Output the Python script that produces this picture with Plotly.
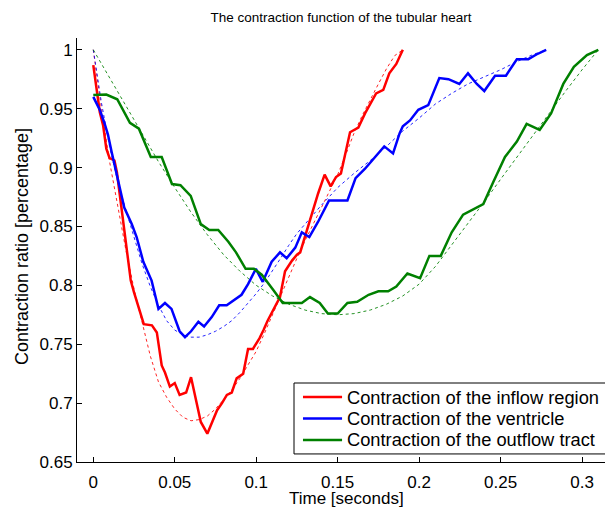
import plotly.graph_objects as go

# Measured contraction ratios (solid) for each region of the tubular heart
t_inflow = [0.000, 0.002, 0.004, 0.006, 0.008, 0.010, 0.013, 0.0145, 0.0175, 0.023,
            0.025, 0.028, 0.031, 0.036, 0.039, 0.042, 0.044, 0.047, 0.050, 0.053,
            0.057, 0.060, 0.066, 0.070, 0.076, 0.079, 0.082, 0.085, 0.088, 0.092,
            0.095, 0.098, 0.102, 0.1045, 0.107, 0.1146, 0.1177, 0.122, 0.125, 0.127,
            0.1326, 0.138, 0.142, 0.1457, 0.149, 0.152, 0.1576, 0.1627, 0.1668, 0.1736,
            0.178, 0.1817, 0.186, 0.190]
v_inflow = [0.987, 0.967, 0.947, 0.936, 0.916, 0.908, 0.906, 0.896, 0.865, 0.804,
            0.794, 0.780, 0.767, 0.766, 0.760, 0.732, 0.726, 0.714, 0.717, 0.707,
            0.709, 0.722, 0.684, 0.674, 0.694, 0.700, 0.707, 0.709, 0.721, 0.725,
            0.746, 0.746, 0.755, 0.762, 0.770, 0.790, 0.812, 0.821, 0.826, 0.828,
            0.854, 0.878, 0.894, 0.884, 0.892, 0.895, 0.930, 0.934, 0.946, 0.963,
            0.966, 0.980, 0.988, 1.000]

t_ventricle = [0.000, 0.004, 0.007, 0.009, 0.0113, 0.0138, 0.0164, 0.019, 0.0236, 0.0266,
               0.0307, 0.0358, 0.040, 0.044, 0.048, 0.053, 0.0563, 0.060, 0.0645, 0.068,
               0.0727, 0.0773, 0.0819, 0.086, 0.091, 0.095, 0.0998, 0.104, 0.1095, 0.1146,
               0.1187, 0.124, 0.128, 0.1326, 0.138, 0.1447, 0.156, 0.161, 0.1668, 0.173,
               0.1786, 0.184, 0.188, 0.190, 0.1944, 0.1995, 0.2056, 0.2124, 0.218, 0.2247,
               0.230, 0.2354, 0.240, 0.2466, 0.2533, 0.260, 0.267, 0.272, 0.278]
v_ventricle = [0.960, 0.949, 0.937, 0.928, 0.913, 0.898, 0.882, 0.866, 0.852, 0.841,
               0.820, 0.804, 0.780, 0.785, 0.780, 0.761, 0.756, 0.761, 0.769, 0.765,
               0.773, 0.783, 0.783, 0.787, 0.792, 0.801, 0.814, 0.803, 0.820, 0.828,
               0.823, 0.832, 0.845, 0.841, 0.854, 0.872, 0.872, 0.891, 0.899, 0.909,
               0.918, 0.912, 0.929, 0.935, 0.940, 0.949, 0.953, 0.976, 0.975, 0.971,
               0.980, 0.971, 0.965, 0.978, 0.978, 0.992, 0.992, 0.996, 1.000]

t_outflow = [0.000, 0.008, 0.0147, 0.0225, 0.028, 0.0353, 0.042, 0.0483, 0.0535, 0.0598,
             0.066, 0.0712, 0.0767, 0.0829, 0.0876, 0.0935, 0.0986, 0.1034, 0.1105, 0.1163,
             0.128, 0.133, 0.139, 0.144, 0.150, 0.156, 0.162, 0.169, 0.175, 0.181,
             0.186, 0.1928, 0.2006, 0.2063, 0.2133, 0.220, 0.227, 0.2394, 0.2456, 0.2527,
             0.260, 0.266, 0.274, 0.281, 0.2885, 0.295, 0.303, 0.310]
v_outflow = [0.9615, 0.962, 0.958, 0.938, 0.933, 0.909, 0.909, 0.886, 0.885, 0.876,
             0.852, 0.847, 0.847, 0.837, 0.828, 0.814, 0.814, 0.809, 0.796, 0.785,
             0.785, 0.790, 0.785, 0.776, 0.776, 0.785, 0.786, 0.792, 0.795, 0.795,
             0.799, 0.810, 0.806, 0.825, 0.825, 0.845, 0.860, 0.869, 0.888, 0.909,
             0.922, 0.937, 0.932, 0.946, 0.971, 0.9855, 0.9955, 1.000]

# Smooth fitted curves (dotted)
tf_inflow = [0.000, 0.005, 0.010, 0.015, 0.020, 0.025, 0.030, 0.035, 0.040, 0.045,
             0.050, 0.055, 0.060, 0.065, 0.070, 0.075, 0.080, 0.085, 0.090, 0.095,
             0.100, 0.105, 0.110, 0.115, 0.120, 0.125, 0.130, 0.135, 0.140, 0.145,
             0.150, 0.155, 0.160, 0.165, 0.170, 0.175, 0.180, 0.185, 0.190]
vf_inflow = [1.000, 0.950, 0.905, 0.866, 0.830, 0.797, 0.768, 0.740, 0.718, 0.705,
             0.695, 0.688, 0.685, 0.686, 0.689, 0.695, 0.703, 0.711, 0.721, 0.732,
             0.744, 0.759, 0.775, 0.791, 0.808, 0.823, 0.838, 0.852, 0.866, 0.879,
             0.894, 0.911, 0.929, 0.944, 0.958, 0.971, 0.984, 0.995, 1.000]

tf_ventricle = [0.000, 0.005, 0.010, 0.015, 0.020, 0.025, 0.030, 0.035, 0.040, 0.045,
                0.050, 0.055, 0.060, 0.065, 0.070, 0.075, 0.080, 0.085, 0.090, 0.095,
                0.100, 0.105, 0.110, 0.115, 0.120, 0.125, 0.130, 0.140, 0.150, 0.160,
                0.170, 0.180, 0.190, 0.200, 0.210, 0.220, 0.230, 0.240, 0.250, 0.260,
                0.270, 0.278]
vf_ventricle = [1.000, 0.955, 0.918, 0.888, 0.864, 0.840, 0.818, 0.799, 0.783, 0.770,
                0.762, 0.758, 0.756, 0.756, 0.758, 0.761, 0.765, 0.770, 0.777, 0.785,
                0.793, 0.802, 0.812, 0.823, 0.834, 0.844, 0.852, 0.868, 0.883, 0.895,
                0.906, 0.918, 0.931, 0.942, 0.954, 0.963, 0.971, 0.977, 0.983, 0.990,
                0.996, 1.000]

tf_outflow = [0.000, 0.010, 0.020, 0.030, 0.040, 0.050, 0.060, 0.070, 0.080, 0.090,
              0.100, 0.110, 0.120, 0.130, 0.140, 0.150, 0.160, 0.170, 0.180, 0.190,
              0.200, 0.210, 0.220, 0.230, 0.240, 0.250, 0.260, 0.270, 0.280, 0.290,
              0.300, 0.310]
vf_outflow = [1.000, 0.976, 0.952, 0.929, 0.905, 0.883, 0.862, 0.843, 0.826, 0.812,
              0.800, 0.791, 0.784, 0.779, 0.776, 0.775, 0.776, 0.779, 0.784, 0.791,
              0.801, 0.816, 0.834, 0.852, 0.871, 0.890, 0.909, 0.928, 0.946, 0.965,
              0.983, 1.000]

series = [
    ("Contraction of the inflow region", "#ff0000", t_inflow, v_inflow, tf_inflow, vf_inflow),
    ("Contraction of the ventricle", "#0000ff", t_ventricle, v_ventricle, tf_ventricle, vf_ventricle),
    ("Contraction of the outflow tract", "#008000", t_outflow, v_outflow, tf_outflow, vf_outflow),
]

FONT = "Liberation Sans, Arial, Helvetica, sans-serif"

fig = go.Figure()

# fitted curves underneath
for name, color, t, v, tf, vf in series:
    fig.add_trace(go.Scatter(x=tf, y=vf, mode="lines", showlegend=False,
                             line=dict(color=color, width=1, dash="dot"),
                             opacity=0.85, hoverinfo="skip"))

# measured curves on top
for name, color, t, v, tf, vf in series:
    fig.add_trace(go.Scatter(x=t, y=v, mode="lines", name=name, showlegend=False,
                             line=dict(color=color, width=2.5)))

# compact boxed key in the lower right corner (paper coordinates)
shapes = [dict(type="rect", xref="paper", yref="paper",
               x0=0.411, x1=1.03, y0=0.019, y1=0.1863,
               line=dict(color="black", width=1), fillcolor="white", layer="above")]
annotations = []
row_y = [0.1533, 0.1026, 0.0519]
for (name, color, *_), ry in zip(series, row_y):
    shapes.append(dict(type="line", xref="paper", yref="paper",
                       x0=0.428, x1=0.502, y0=ry, y1=ry,
                       line=dict(color=color, width=2.5), layer="above"))
    annotations.append(dict(text=name, xref="paper", yref="paper",
                            x=0.507, y=ry, xanchor="left", yanchor="middle",
                            showarrow=False,
                            font=dict(family=FONT, size=18.3, color="black")))

annotations += [
    dict(text="Time [seconds]", xref="paper", yref="paper",
         x=0.511, y=-0.086, xanchor="center", yanchor="middle",
         showarrow=False, font=dict(family=FONT, size=17, color="black")),
    dict(text="Contraction ratio [percentage]", xref="paper", yref="paper",
         x=-0.104, y=0.507, xanchor="center", yanchor="middle", textangle=-90,
         showarrow=False, font=dict(family=FONT, size=18, color="black")),
]

axis_common = dict(showgrid=False, zeroline=False, showline=True, linecolor="black",
                   linewidth=1, ticks="inside", ticklen=5, tickcolor="black",
                   tickfont=dict(family=FONT, size=17, color="black"), mirror=False)

fig.update_layout(
    width=605, height=507,
    margin=dict(l=77, r=0, t=38, b=45),
    paper_bgcolor="white", plot_bgcolor="white",
    font=dict(family=FONT, color="black"),
    showlegend=False,
    title=dict(text="The contraction function of the tubular heart",
               font=dict(family=FONT, size=13.5, color="black"),
               x=0.5, xref="paper", xanchor="center",
               y=1 - 17 / 507, yanchor="middle"),
    xaxis=dict(range=[-0.01, 0.3141], tick0=0, dtick=0.05, ticklabelstandoff=5,
               **axis_common),
    yaxis=dict(range=[0.65, 1.01], tick0=0.65, dtick=0.05, **axis_common),
    shapes=shapes,
    annotations=annotations,
)

fig.write_html("out.html")
